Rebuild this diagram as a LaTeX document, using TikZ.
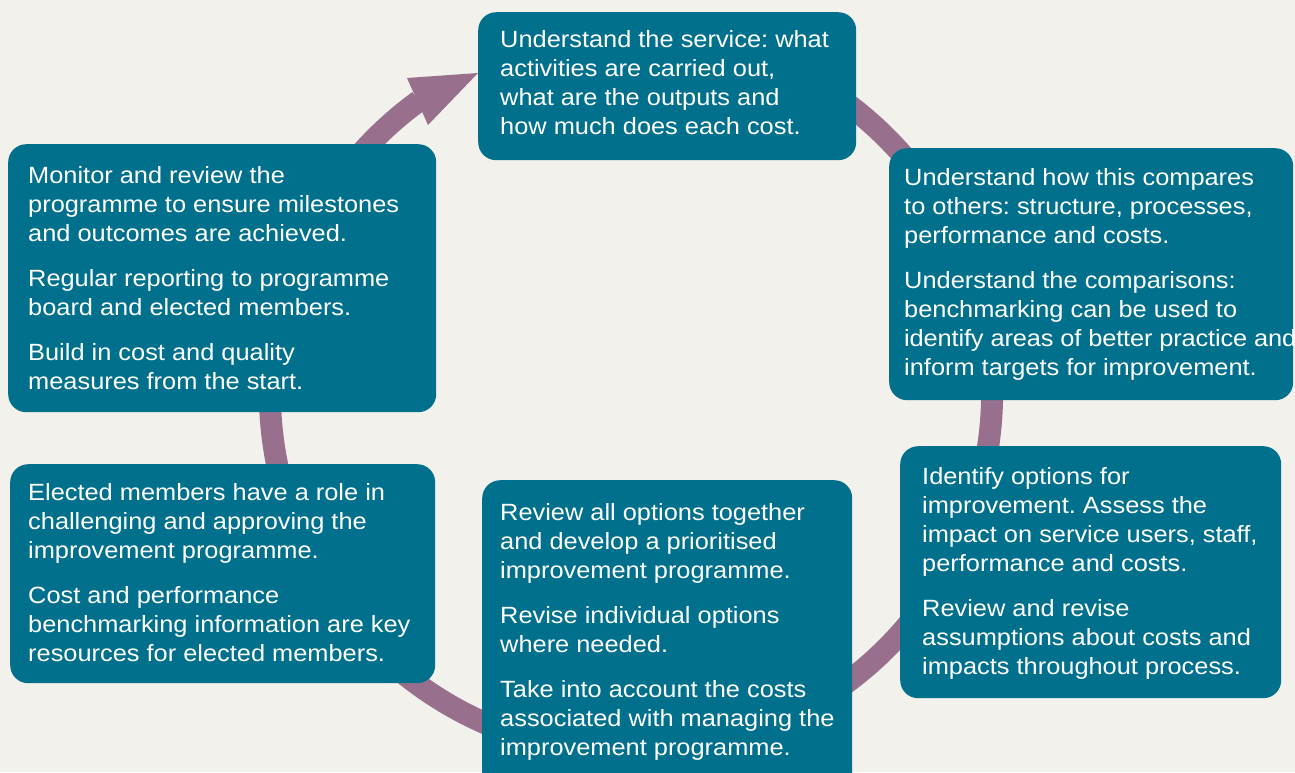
\documentclass[tikz,border=0pt]{standalone}
\usepackage{fontspec}
\setmainfont[FakeStretch=1.08]{Liberation Sans}
\definecolor{bgc}{HTML}{F2F1EB}
\definecolor{teal}{HTML}{00708D}
\definecolor{ringc}{HTML}{986F8D}
\begin{document}
\begin{tikzpicture}[x=1pt,y=-1pt,
  box/.style={fill=teal, draw=none, rounded corners=18pt, anchor=north west, inner sep=0pt},
  txt/.style={anchor=north west, inner sep=0pt, align=left, text=white, font=\fontsize{23.5}{29}\selectfont\frenchspacing},
  ring/.style={draw=ringc, line width=22pt}]
\fill[bgc] (0,0) rectangle (1295,772);
\useasboundingbox (0,0) rectangle (1295,772);
% ring
\coordinate (c) at (631,393);
\draw[ring] (c) ++(290:361) arc[start angle=290, end angle=594, radius=361];
\fill[ringc] (407,78) -- (478,73) -- (428,125) -- cycle;
% boxes
\node[box, minimum width=378pt, minimum height=148pt] (b1) at (478,12) {};
\node[box, minimum width=404pt, minimum height=252pt] (b2) at (889,148) {};
\node[box, minimum width=381pt, minimum height=252pt] (b3) at (900,446) {};
\node[box, minimum width=370pt, minimum height=310pt] (b4) at (482,480) {};
\node[box, minimum width=425pt, minimum height=219pt] (b5) at (10,464) {};
\node[box, minimum width=428pt, minimum height=268pt] (b6) at (8,144) {};
% texts
\node[txt] (t1) at (500,30) {Understand the service: what\\activities are carried out,\\what are the outputs and\\how much does each cost.};
\node[txt] (t2) at (904,168) {Understand how this compares\\to others: structure, processes,\\performance and costs.\\[16pt]Understand the comparisons:\\benchmarking can be used to\\{\addfontfeature{LetterSpace=-0.6}identify areas of better practice and}\\inform targets for improvement.};
\node[txt] (t3) at (922,467) {Identify options for\\improvement. Assess the\\impact on service users, staff,\\performance and costs.\\[16pt]Review and revise\\assumptions about costs and\\impacts throughout process.};
\node[txt] (t4) at (500,503) {Review all options together\\and develop a prioritised\\improvement programme.\\[16pt]Revise individual options\\where needed.\\[16pt]Take into account the costs\\associated with managing the\\improvement programme.};
\node[txt] (t5) at (28,483) {Elected members have a role in\\challenging and approving the\\improvement programme.\\[16pt]Cost and performance\\benchmarking information are key\\resources for elected members.};
\node[txt] (t6) at (28,166) {Monitor and review the\\programme to ensure milestones\\and outcomes are achieved.\\[16pt]Regular reporting to programme\\board and elected members.\\[16pt]Build in cost and quality\\measures from the start.};
\end{tikzpicture}
\end{document}
